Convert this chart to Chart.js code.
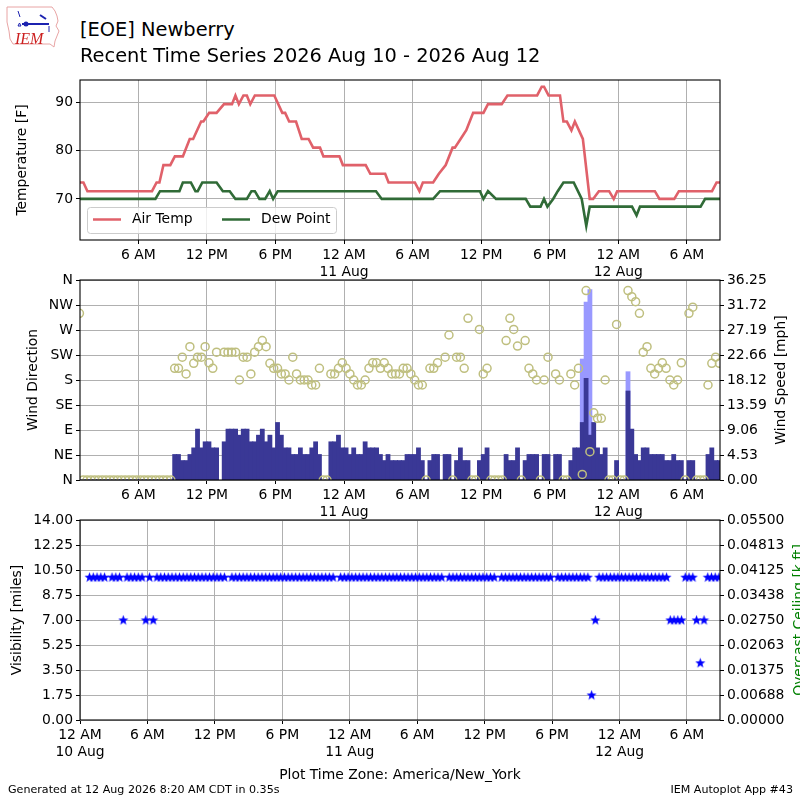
<!DOCTYPE html>
<html>
<head>
<meta charset="utf-8">
<title>[EOE] Newberry Recent Time Series</title>
<script src="https://cdn.jsdelivr.net/npm/chart.js@4.4.1/dist/chart.umd.min.js"></script>
<style>
  body { margin: 0; background: #fff; width: 800px; height: 800px; position: relative; overflow: hidden;
         font-family: "DejaVu Sans", sans-serif; color: #000; }
  .abs { position: absolute; }
  .panel { position: absolute; left: 0; width: 800px; }
  .title { left: 80px; font-size: 19.4px; line-height: 24px; white-space: nowrap; }
</style>
</head>
<body>
<canvas id="logo" class="abs" style="left:0;top:0" width="66" height="52"></canvas>
<div class="abs title" style="top:18px">[EOE] Newberry</div>
<div class="abs title" style="top:44px">Recent Time Series 2026 Aug 10 - 2026 Aug 12</div>

<div class="panel" style="top:66px;height:214px"><canvas id="tempChart"></canvas></div>
<div class="panel" style="top:266px;height:259px"><canvas id="windChart"></canvas></div>
<div class="panel" style="top:506px;height:264px"><canvas id="visChart"></canvas></div>

<div class="abs" style="left:0;width:800px;top:766px;text-align:center;font-size:13.9px;line-height:16px">Plot Time Zone: America/New_York</div>
<div class="abs" style="left:8px;top:783px;font-size:11.1px;line-height:14px">Generated at 12 Aug 2026 8:20 AM CDT in 0.35s</div>
<div class="abs" style="right:7px;top:783px;font-size:11.1px;line-height:14px">IEM Autoplot App #43</div>

<script>
// x values are hours since 12 AM 10 Aug (America/New_York)
const hourTicksTop = [6, 12, 18, 24, 30, 36, 42, 48, 54];
const hourTicksBottom = [0, 6, 12, 18, 24, 30, 36, 42, 48, 54];
const hourNames = {0: '12 AM', 6: '6 AM', 12: '12 PM', 18: '6 PM'};
const dayNames = {0: '10 Aug', 24: '11 Aug', 48: '12 Aug'};

// temperature panel
const tempTicks = [70, 80, 90];
const tempHours = [0.9, 1.2, 1.55, 7.2, 7.6, 7.85, 8.2, 8.8, 9.2, 9.9, 10.5, 10.8, 11.5, 11.7, 12.2, 12.85,
  13.5, 14.2, 14.5, 14.8, 15.2, 15.5, 15.8, 16.2, 17.9, 18.6, 18.85, 19.2, 19.8, 20.3, 20.9, 21.3, 21.9,
  22.2, 23.6, 23.9, 25.9, 26.3, 27.6, 27.9, 30.2, 30.6, 30.9, 31.8, 32.3, 32.9, 33.5, 33.7, 34.2, 34.7,
  35.3, 36.2, 36.6, 37.8, 38.3, 40.9, 41.3, 41.5, 41.9, 42.9, 43.2, 43.5, 43.9, 44.2, 44.9, 45.5, 45.8,
  46.3, 47.2, 47.6, 47.9, 51.2, 51.6, 52.9, 53.3, 56.2, 56.6, 56.9];
const airTemp = [73.4, 73.4, 71.6, 71.6, 73.4, 73.4, 77, 77, 78.8, 78.8, 82.4, 82.4, 86, 86, 87.8, 87.8,
  89.6, 89.6, 91.4, 89.6, 91.4, 91.4, 89.6, 91.4, 91.4, 87.8, 87.8, 86, 86, 82.4, 82.4, 80.6, 80.6,
  78.8, 78.8, 77, 77, 75.2, 75.2, 73.4, 73.4, 71.6, 73.4, 73.4, 75.2, 77, 80.6, 80.6, 82.4, 84.2,
  87.8, 87.8, 89.6, 89.6, 91.4, 91.4, 93.2, 93.2, 91.4, 91.4, 86, 86, 84.2, 86, 82.4, 70, 70,
  71.6, 71.6, 70, 71.6, 71.6, 70, 70, 71.6, 71.6, 73.4, 73.4];
const dewHours = [0.9, 7.5, 7.9, 9.6, 9.9, 10.6, 11.0, 11.2, 11.6, 12.85, 13.4, 14.0, 14.5, 15.5, 15.9, 16.2,
  16.6, 17.1, 17.5, 17.8, 18.2, 26.8, 27.3, 31.8, 32.4, 35.9, 36.2, 36.6, 37.3, 39.9, 40.3, 41.2, 41.5,
  41.8, 42.3, 42.7, 43.2, 44.1, 44.8, 45.2, 45.5, 49.2, 49.6, 49.9, 55.2, 55.6, 56.9];
const dewPoint = [70, 70, 71.6, 71.6, 73.4, 73.4, 71.6, 71.6, 73.4, 73.4, 71.6, 71.6, 70, 70, 71.6, 71.6,
  70, 70, 71.6, 70, 71.6, 71.6, 70, 70, 71.6, 71.6, 70, 71.6, 70, 70, 68.4, 68.4, 70,
  68.4, 70, 71.6, 73.4, 73.4, 70, 64.4, 68.4, 68.4, 66.6, 68.4, 68.4, 70, 70];

// observations every 20 minutes starting 00:51
const obsStart = 0.85;
const obsStep = 1 / 3;
// wind direction [deg], 0 = calm
const windDir = [
  300, 0, 0, 0, 0, 0, 0, 0, 0, 0, 0, 0,
  0, 0, 0, 0, 0, 0, 0, 0, 0, 0, 0, 0,
  0, 201, 201, 221, 191, 240, 210, 221, 221, 240, 211, 201,
  230, null, 230, 230, 230, 230, 180, 221, 221, 191, 230, 240,
  251, 240, 210, 201, 201, 191, 191, 180, 221, 191, 180, 180,
  180, 171, 171, 201, 0, 0, 191, 191, 201, 211, 201, 191,
  180, 171, 171, 180, 201, 211, 211, 201, 211, 201, 191, 191,
  191, 201, 201, 191, 180, 171, 171, 0, 201, 201, 211, null,
  221, 261, 0, 221, 221, 201, 291, 0, 0, 271, 191, 201,
  0, 0, 0, 0, 251, 291, 271, 241, 0, 251, 201, 191,
  180, 0, 180, 221, null, 191, 180, 0, 0, 191, 171, 201,
  10, 341, 51, 121, 111, 111, 180, 0, 0, 280, 0, 0,
  341, 330, 321, 300, 230, 240, 201, 191, 201, 211, 201, 180,
  171, 180, 211, 0, 300, 311, 0, 0, 0, 171, 210, 221,
  210];
// wind speed [mph]
const windSpeed = [
  null, 0, 0, 0, 0, 0, 0, 0, 0, 0, 0, 0,
  0, 0, 0, 0, 0, 0, 0, 0, 0, 0, 0, 0,
  0, 4.6, 4.6, 3.5, 3.5, 4.6, 5.8, 9.2, 5.8, 6.9, 6.9, 5.8,
  5.8, null, 6.9, 9.2, 9.2, 9.2, 8.1, 9.2, 9.2, 6.9, 6.9, 8.1,
  9.2, 6.9, 8.1, 5.8, 10.4, 8.1, 5.8, 5.8, 4.6, 4.6, 5.8, 4.6,
  4.6, 5.8, 6.9, 4.6, 0, 0, 6.9, 6.9, 8.1, 5.8, 5.8, 4.6,
  5.8, 4.6, 4.6, 6.9, 5.8, 5.8, 5.8, 4.6, 3.5, 4.6, 3.5, 3.5,
  3.5, 3.5, 4.6, 4.6, 4.6, 5.8, 3.5, 0, 3.5, 4.6, 4.6, null,
  4.6, 4.6, 0, 3.5, 5.8, 3.5, 3.5, 0, 0, 3.5, 4.6, 5.8,
  0, 0, 0, 0, 4.6, 3.5, 3.5, 5.8, 0, 3.5, 4.6, 4.6,
  4.6, 0, 4.6, 4.6, null, 4.6, 4.6, 0, 0, 3.5, 5.8, 5.8,
  10.4, 18.4, 8.1, 10.4, 5.8, 4.6, 5.8, 0, 0, 3.5, 0, 0,
  16.1, 9.2, 4.6, 3.5, 5.8, 5.8, 4.6, 4.6, 4.6, 4.6, 3.5, 3.5,
  4.6, 3.5, 3.5, 0, 3.5, 3.5, 0, 0, 0, 4.6, 5.8, 3.5,
  3.5];
// gusts [mph], by observation number
const gustObs = [132, 133, 134, 144];
const gustSpeed = [21.9, 32.2, 34.5, 19.6];
const dirTicks = [0, 45, 90, 135, 180, 225, 270, 315, 360];
const dirTickLabels = ['N', 'NE', 'E', 'SE', 'S', 'SW', 'W', 'NW', 'N'];
const spdTicks = [0, 4.53125, 9.0625, 13.59375, 18.125, 22.65625, 27.1875, 31.71875, 36.25];
const spdTickLabels = ['0.00', '4.53', '9.06', '13.59', '18.12', '22.66', '27.19', '31.72', '36.25'];

// visibility [miles]
const visibility = [
  10, 10, 10, 10, 10, null, 10, 10, 10, 7, 10, 10,
  10, 10, 10, 7, 10, 7, 10, 10, 10, 10, 10, 10,
  10, 10, 10, 10, 10, 10, 10, 10, 10, 10, 10, 10,
  10, null, 10, 10, 10, 10, 10, 10, 10, 10, 10, 10,
  10, 10, 10, 10, 10, 10, 10, 10, 10, 10, 10, 10,
  10, 10, 10, 10, 10, 10, null, 10, 10, 10, 10, 10,
  10, 10, 10, 10, 10, 10, 10, 10, 10, 10, 10, 10,
  10, 10, 10, 10, 10, 10, 10, 10, 10, 10, 10, null,
  10, 10, 10, 10, 10, 10, 10, 10, 10, 10, 10, 10,
  10, null, 10, 10, 10, 10, 10, 10, 10, 10, 10, 10,
  10, 10, 10, 10, null, 10, 10, 10, 10, 10, 10, 10,
  10, 10, 1.75, 7, 10, 10, 10, 10, 10, 10, 10, 10,
  10, 10, 10, 10, 10, 10, 10, 10, 10, 10, 10, 7,
  7, 7, 7, 10, 10, 10, 7, 4, 7, 10, 10, 10,
  10];
const visTicks = [0, 1.75, 3.5, 5.25, 7, 8.75, 10.5, 12.25, 14];
const visTickLabels = ['0.00', '1.75', '3.50', '5.25', '7.00', '8.75', '10.50', '12.25', '14.00'];
const ceilTicks = [0, 0.006875, 0.01375, 0.020625, 0.0275, 0.034375, 0.04125, 0.048125, 0.055];
const ceilTickLabels = ['0.00000', '0.00688', '0.01375', '0.02063', '0.02750', '0.03438', '0.04125', '0.04813', '0.05500'];

Chart.defaults.font.family = '"DejaVu Sans", sans-serif';
Chart.defaults.font.size = 13.9;
Chart.defaults.color = '#000';
Chart.defaults.animation = false;

const obsTime = i => obsStart + i * obsStep;
const GRID = '#b0b0b0';

function tickLabel(v) {
  const name = hourNames[v % 24];
  return dayNames[v] !== undefined ? [name, dayNames[v]] : name;
}

function timeAxis(min, max, ticks, height) {
  return {
    type: 'linear', min: min, max: max, offset: false,
    afterBuildTicks: ax => { ax.ticks = ticks.map(v => ({value: v})); },
    afterFit: ax => { ax.height = height; },
    ticks: {autoSkip: false, maxRotation: 0, padding: 3, callback: v => tickLabel(v)},
    grid: {color: GRID, offset: false, tickColor: '#000', tickLength: 4},
    border: {display: false}
  };
}

function valueAxis(position, min, max, ticks, labels, title, titlePad) {
  const axis = {
    type: 'linear', position: position, min: min, max: max,
    afterBuildTicks: ax => { ax.ticks = ticks.map(v => ({value: v})); },
    afterFit: ax => { ax.width = 80; },
    ticks: {padding: 3, callback: (v, i) => labels[i]},
    grid: {color: GRID, tickColor: '#000', tickLength: 4, drawOnChartArea: position === 'left'},
    border: {display: false}
  };
  if (title) axis.title = {display: true, text: title, padding: {top: titlePad, bottom: 0}};
  return axis;
}

// black box round each plot
const frame = {
  id: 'frame',
  afterDraw(chart) {
    const {ctx, chartArea: a} = chart;
    ctx.save();
    ctx.strokeStyle = '#000';
    ctx.lineWidth = 1.1;
    ctx.strokeRect(a.left, a.top, a.right - a.left, a.bottom - a.top);
    ctx.restore();
  }
};

// right hand axis title, reading bottom to top like the left one
const sideTitle = {
  id: 'sideTitle',
  afterDraw(chart, args, opts) {
    if (!opts || !opts.text) return;
    const {ctx, chartArea: a} = chart;
    ctx.save();
    ctx.translate(opts.x, (a.top + a.bottom) / 2 + (opts.dy || 0));
    ctx.rotate(-Math.PI / 2);
    ctx.fillStyle = opts.color || '#000';
    ctx.font = '13.9px "DejaVu Sans"';
    ctx.textAlign = 'center';
    ctx.textBaseline = 'middle';
    ctx.fillText(opts.text, 0, 0);
    ctx.restore();
  }
};

const tempLegend = {
  id: 'tempLegend',
  afterDatasetsDraw(chart) {
    const {ctx, chartArea: a} = chart;
    const x = a.left + 7.5, y = a.top + 127.5;
    ctx.save();
    ctx.fillStyle = 'rgba(255,255,255,0.8)';
    ctx.strokeStyle = '#cccccc';
    ctx.lineWidth = 1;
    ctx.beginPath();
    ctx.roundRect(x, y, 249, 26, 3);
    ctx.fill();
    ctx.stroke();
    ctx.font = '13.9px "DejaVu Sans"';
    ctx.textBaseline = 'middle';
    chart.data.datasets.forEach((ds, i) => {
      const lx = x + 5.5 + i * 129, ly = y + 12;
      ctx.strokeStyle = ds.borderColor;
      ctx.lineWidth = 2.5;
      ctx.beginPath();
      ctx.moveTo(lx, ly);
      ctx.lineTo(lx + 28, ly);
      ctx.stroke();
      ctx.fillStyle = '#000';
      ctx.fillText(ds.label, lx + 39, ly);
    });
    ctx.restore();
  }
};

// filled five point star like the matplotlib marker
const starMark = (() => {
  const c = document.createElement('canvas');
  c.width = 11; c.height = 11;
  const g = c.getContext('2d');
  g.fillStyle = '#0000ff';
  g.beginPath();
  for (let k = 0; k < 10; k++) {
    const r = k % 2 ? 2.2 : 5.3;
    const ang = -Math.PI / 2 + k * Math.PI / 5;
    g.lineTo(5.5 + r * Math.cos(ang), 5.9 + r * Math.sin(ang));
  }
  g.closePath();
  g.fill();
  return c;
})();

// temperature
new Chart(document.getElementById('tempChart'), {
  type: 'line',
  data: {
    datasets: [
      {label: 'Air Temp', data: tempHours.map((h, i) => ({x: h, y: airTemp[i]})),
       borderColor: '#e0616a', borderWidth: 2.6, pointRadius: 0, tension: 0},
      {label: 'Dew Point', data: dewHours.map((h, i) => ({x: h, y: dewPoint[i]})),
       borderColor: '#306b37', borderWidth: 2.6, pointRadius: 0, tension: 0}
    ]
  },
  options: {
    responsive: true, maintainAspectRatio: false,
    layout: {padding: {top: 14, left: 0, right: 80, bottom: 0}},
    plugins: {legend: {display: false}, tooltip: {enabled: false}},
    scales: {
      x: timeAxis(0.9, 56.9, hourTicksTop, 40),
      y: valueAxis('left', 61.5, 94.6, tempTicks, tempTicks.map(String), 'Temperature [F]', 14)
    }
  },
  plugins: [frame, tempLegend]
});

// wind
const windTimes = windDir.map((d, i) => obsTime(i));
new Chart(document.getElementById('windChart'), {
  type: 'bar',
  data: {
    datasets: [
      {type: 'line', label: 'Wind Direction', yAxisID: 'yDir', order: 0, showLine: false,
       data: windTimes.map((t, i) => ({x: t, y: windDir[i]})),
       pointRadius: 4, pointBorderWidth: 1.5, pointBorderColor: '#bfbf7f',
       pointBackgroundColor: 'rgba(0,0,0,0)'},
      {label: 'Wind Speed', yAxisID: 'ySpd', order: 1, grouped: false,
       data: windTimes.map((t, i) => ({x: t, y: windSpeed[i]})),
       backgroundColor: '#3a3896', borderWidth: 0, inflateAmount: 0.5,
       barPercentage: 1, categoryPercentage: 1},
      {label: 'Wind Gust', yAxisID: 'ySpd', order: 2, grouped: false,
       data: gustObs.map((n, i) => ({x: obsTime(n), y: gustSpeed[i]})),
       backgroundColor: '#9999ff', borderWidth: 0, inflateAmount: 0.5,
       barPercentage: 1, categoryPercentage: 1}
    ]
  },
  options: {
    responsive: true, maintainAspectRatio: false,
    layout: {padding: {top: 14, left: 0, right: 0, bottom: 0}},
    plugins: {legend: {display: false}, tooltip: {enabled: false},
      sideTitle: {text: 'Wind Speed [mph]', x: 781.5}},
    scales: {
      x: timeAxis(0.9, 56.9, hourTicksTop, 45),
      yDir: valueAxis('left', 0, 360, dirTicks, dirTickLabels, 'Wind Direction', 25.5),
      ySpd: valueAxis('right', 0, 36.25, spdTicks, spdTickLabels)
    }
  },
  plugins: [frame, sideTitle]
});

// visibility
new Chart(document.getElementById('visChart'), {
  type: 'scatter',
  data: {
    datasets: [
      {label: 'Visibility', yAxisID: 'yVis',
       data: visibility.map((v, i) => ({x: obsTime(i), y: v})),
       pointStyle: starMark, pointRadius: 5}
    ]
  },
  options: {
    responsive: true, maintainAspectRatio: false,
    layout: {padding: {top: 14, left: 0, right: 0, bottom: 0}},
    plugins: {legend: {display: false}, tooltip: {enabled: false},
      sideTitle: {text: 'Overcast Ceiling [k ft]', x: 799, color: '#008000'}},
    scales: {
      x: timeAxis(0, 56.94, hourTicksBottom, 50),
      yVis: valueAxis('left', 0, 14, visTicks, visTickLabels, 'Visibility [miles]', 9.5),
      yCeil: valueAxis('right', 0, 0.055, ceilTicks, ceilTickLabels)
    }
  },
  plugins: [frame, sideTitle]
});

// IEM logo, roughly
(function drawLogo() {
  const g = document.getElementById('logo').getContext('2d');
  g.strokeStyle = '#e8a4a4';
  g.lineWidth = 1;
  g.beginPath();
  [[7, 7], [52, 7], [55, 11], [57, 16], [58, 21], [56, 26], [59, 31], [57, 36], [55, 41], [54, 47],
   [50, 44], [13, 44], [10, 39], [9, 31], [7, 22]].forEach(([x, y], k) => k ? g.lineTo(x, y) : g.moveTo(x, y));
  g.closePath();
  g.stroke();
  g.strokeStyle = '#1c22b0';
  g.fillStyle = '#1c22b0';
  g.lineWidth = 2;
  g.beginPath(); g.moveTo(22, 24); g.lineTo(49, 24); g.stroke();
  g.beginPath(); g.arc(26, 24, 2.5, 0, Math.PI * 2); g.fill();
  g.beginPath(); g.moveTo(40, 15); g.lineTo(46, 19); g.stroke();
  g.lineWidth = 1;
  g.beginPath(); g.moveTo(18, 11); g.lineTo(20, 17); g.stroke();
  g.beginPath(); g.moveTo(49, 26); g.lineTo(49, 32); g.stroke();
  g.beginPath(); g.moveTo(18, 26); g.lineTo(21, 26); g.lineTo(19.5, 23); g.closePath(); g.stroke();
  g.fillStyle = '#cc2020';
  g.font = 'italic 16px "Liberation Serif"';
  g.fillText('IEM', 15, 44);
})();
</script>
</body>
</html>
